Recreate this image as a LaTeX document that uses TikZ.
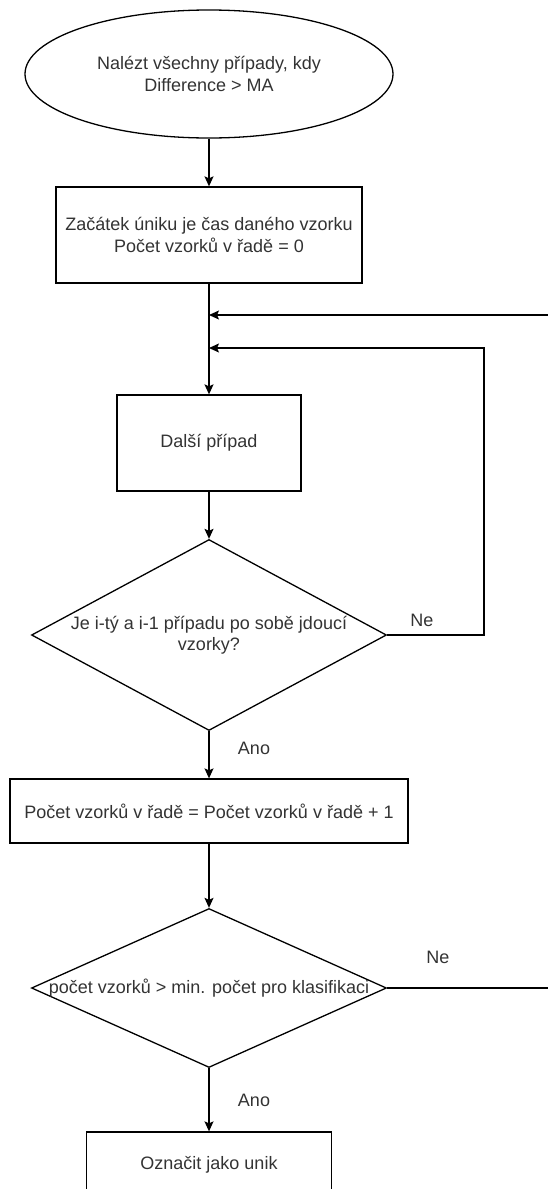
\documentclass[tikz,border=0pt]{standalone}
\usepackage{fontspec}
\setmainfont{Liberation Sans}
\usetikzlibrary{shapes.geometric,arrows.meta}
\begin{document}
\begin{tikzpicture}[x=1pt,y=-1pt,
    every node/.style={font=\fontsize{18}{21.5}\selectfont, text=black!80, align=center},
    base/.style={draw=black, line width=1.3pt, inner sep=0pt},
    terminal/.style={base, ellipse, minimum width=368pt, minimum height=128pt},
    process/.style={base, rectangle},
    decision/.style={base, diamond, minimum width=355pt},
    wire/.style={line width=1.3pt},
    flow/.style={wire, -{Stealth[length=10pt,width=9pt,inset=2pt]}}]
  \useasboundingbox (0,0) rectangle (548,1189);
  \clip (0,0) rectangle (548,1189);
  % steps
  \node[terminal] (find) at (209,74) {Nalézt všechny případy, kdy\\Difference > MA};
  \node[process, minimum width=306pt, minimum height=96pt] (start) at (209,235)
    {Začátek úniku je čas daného vzorku\\Počet vzorků v řadě = 0};
  \node[process, minimum width=184pt, minimum height=96pt] (next) at (209,443) {Další případ};
  \node[decision, minimum height=191pt,
    label={center:{Je i-tý a i-1 případu po sobě jdoucí\\vzorky?}}] (consec) at (209,635) {};
  \node[process, minimum width=398pt, minimum height=64pt] (count) at (209,811)
    {Počet vzorků v řadě = Počet vzorků v řadě + 1};
  \node[decision, minimum height=159pt,
    label={center:{počet vzorků > min. počet pro klasifikaci}}] (enough) at (209,988) {};
  \node[process, minimum width=245pt, minimum height=66pt] (mark) at (209,1165) {Označit jako unik};
  % answers
  \node (no1) at (422,620) {Ne};
  \node (yes1) at (254,748) {Ano};
  \node (no2) at (438,957) {Ne};
  \node (yes2) at (254,1100) {Ano};
  % loop points
  \coordinate (join1) at (209,315);
  \coordinate (join2) at (209,348);
  \coordinate (edge1) at (548,315);
  \coordinate (corner) at (484,348);
  \coordinate (edge2) at (548,988);
  % connectors
  \draw[flow] (find) -- (start);
  \draw[flow] (start) -- (next);
  \draw[flow] (edge1) -- (join1);
  \draw[flow] (consec.east) -- (corner |- consec.east) -- (corner) -- (join2);
  \draw[flow] (next) -- (consec);
  \draw[flow] (consec) -- (count);
  \draw[flow] (count) -- (enough);
  \draw[flow] (enough) -- (mark);
  \draw[wire] (enough.east) -- (edge2);
\end{tikzpicture}
\end{document}
